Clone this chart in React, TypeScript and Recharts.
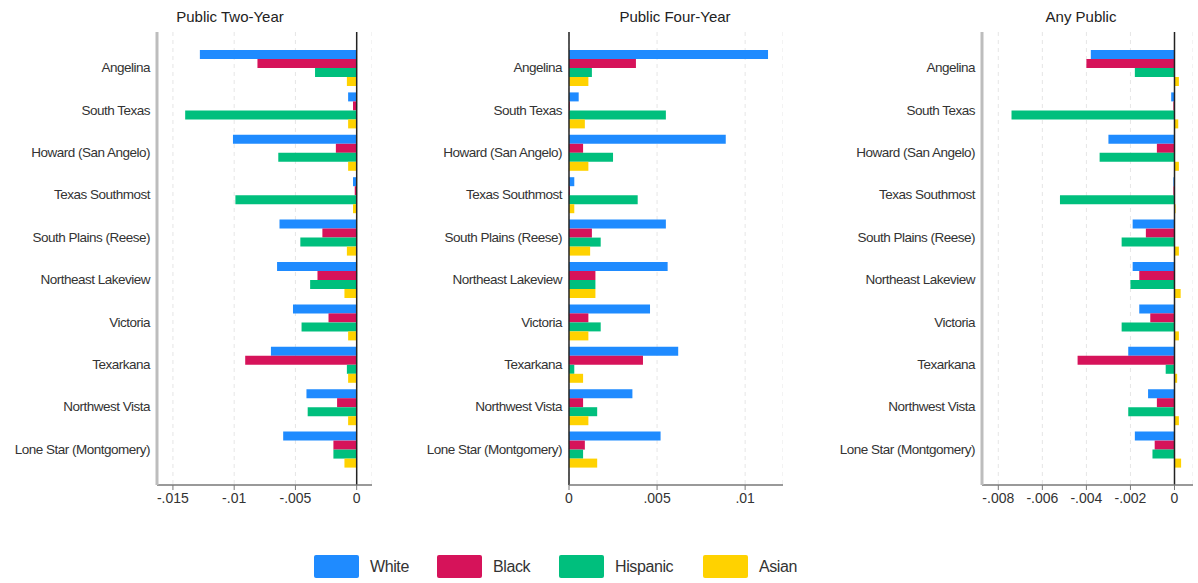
import React from "react";
import {
  BarChart, Bar, XAxis, YAxis, CartesianGrid, ReferenceLine,
} from "recharts";

// colleges, top to bottom
const categories = [
  "Angelina", "South Texas", "Howard (San Angelo)", "Texas Southmost", "South Plains (Reese)",
  "Northeast Lakeview", "Victoria", "Texarkana", "Northwest Vista", "Lone Star (Montgomery)",
];

const seriesNames = ["White", "Black", "Hispanic", "Asian"];
const seriesColors = ["#1f8bff", "#d6135a", "#00bf7d", "#ffd200"];

// Public Two-Year
const twoYearWhite = [-0.0128, -0.0007, -0.0101, -0.0003, -0.0063, -0.0065, -0.0052, -0.0070, -0.0041, -0.0060];
const twoYearBlack = [-0.0081, -0.0003, -0.0017, -0.00016, -0.0028, -0.0032, -0.0023, -0.0091, -0.0016, -0.0019];
const twoYearHispanic = [-0.0034, -0.0140, -0.0064, -0.0099, -0.0046, -0.0038, -0.0045, -0.0008, -0.0040, -0.0019];
const twoYearAsian = [-0.0008, -0.0007, -0.0007, -0.0003, -0.0008, -0.0010, -0.0007, -0.0007, -0.0007, -0.0010];
const twoYearTicks = [-0.015, -0.01, -0.005, 0];

// Public Four-Year
const fourYearWhite = [0.0113, 0.00055, 0.0089, 0.0003, 0.0055, 0.0056, 0.0046, 0.0062, 0.0036, 0.0052];
const fourYearBlack = [0.0038, 0.00005, 0.0008, 0.00005, 0.0013, 0.0015, 0.0011, 0.0042, 0.0008, 0.0009];
const fourYearHispanic = [0.0013, 0.0055, 0.0025, 0.0039, 0.0018, 0.0015, 0.0018, 0.0003, 0.0016, 0.0008];
const fourYearAsian = [0.0011, 0.0009, 0.0011, 0.0003, 0.0012, 0.0015, 0.0011, 0.0008, 0.0011, 0.0016];
const fourYearTicks = [0, 0.005, 0.01];

// Any Public
const anyWhite = [-0.0038, -0.00015, -0.0030, -0.00005, -0.0019, -0.0019, -0.0016, -0.0021, -0.0012, -0.0018];
const anyBlack = [-0.0040, -0.00005, -0.0008, -0.00005, -0.0013, -0.0016, -0.0011, -0.0044, -0.0008, -0.0009];
const anyHispanic = [-0.0018, -0.0074, -0.0034, -0.0052, -0.0024, -0.0020, -0.0024, -0.0004, -0.0021, -0.0010];
const anyAsian = [0.0002, 0.00017, 0.0002, 0.00005, 0.0002, 0.00028, 0.0002, 0.00012, 0.0002, 0.0003];
const anyTicks = [-0.008, -0.006, -0.004, -0.002, 0];

const FONT = "'Liberation Sans', Arial, sans-serif";

const build = (w: number[], b: number[], h: number[], a: number[]) =>
  categories.map((name, i) => ({ name, White: w[i], Black: b[i], Hispanic: h[i], Asian: a[i] }));

const fmt = (v: number) => (v === 0 ? "0" : String(v).replace("0.", "."));

// single-line category label (the default tick wraps long names)
const CollegeTick = ({ x, y, payload }: any) => (
  <text x={x} y={y} dy={4} textAnchor="end" fontSize={13.5} fill="#333"
    fontFamily={FONT} letterSpacing={-0.5}>
    {payload.value}
  </text>
);

interface PanelProps {
  left: number;
  width: number;
  yWidth: number;
  data: any[];
  domain: [number, number];
  ticks: number[];
  grayAxis: boolean;
}

function Panel({ left, width, yWidth, data, domain, ticks, grayAxis }: PanelProps) {
  return (
    <div style={{ position: "absolute", left, top: 0 }}>
      <BarChart
        width={width}
        height={530}
        data={data}
        layout="vertical"
        barSize={9}
        barGap={0}
        margin={{ top: 32, right: 0, bottom: 15, left: 0 }}
      >
        <CartesianGrid horizontal={false} stroke="#e6e6e6" strokeDasharray="4 4" />
        <XAxis
          type="number"
          domain={domain}
          ticks={ticks}
          allowDataOverflow
          tickFormatter={fmt}
          axisLine={{ stroke: "#777", strokeWidth: 1.5 }}
          tickLine={{ stroke: "#777" }}
          tickSize={5}
          tickMargin={3}
          height={30}
          tick={{ fontSize: 14, fill: "#333", fontFamily: FONT }}
        />
        <YAxis
          type="category"
          dataKey="name"
          width={yWidth}
          padding={{ top: 15, bottom: 14 }}
          axisLine={grayAxis ? { stroke: "#bdbdbd", strokeWidth: 3 } : false}
          tickLine={false}
          tickSize={0}
          tickMargin={7}
          interval={0}
          tick={<CollegeTick />}
        />
        <ReferenceLine x={0} stroke="#222" strokeWidth={1.5} />
        {seriesNames.map((s, i) => (
          <Bar key={s} dataKey={s} fill={seriesColors[i]} isAnimationActive={false} />
        ))}
      </BarChart>
    </div>
  );
}

const titleStyle: React.CSSProperties = {
  position: "absolute", top: 8, fontSize: 15, color: "#222", fontFamily: FONT,
  transform: "translateX(-50%)", whiteSpace: "nowrap",
};

export default function App() {
  const legendX = [314, 437, 559, 703];
  return (
    <div style={{ position: "fixed", left: 0, top: 0, width: 1198, height: 583, background: "#fff", overflow: "hidden" }}>
      <div style={{ ...titleStyle, left: 230 }}>Public Two-Year</div>
      <div style={{ ...titleStyle, left: 675 }}>Public Four-Year</div>
      <div style={{ ...titleStyle, left: 1081 }}>Any Public</div>

      <Panel left={0} width={372} yWidth={157}
        data={build(twoYearWhite, twoYearBlack, twoYearHispanic, twoYearAsian)}
        domain={[-0.0163, 0.00125]} ticks={twoYearTicks} grayAxis />
      <Panel left={400} width={383} yWidth={169}
        data={build(fourYearWhite, fourYearBlack, fourYearHispanic, fourYearAsian)}
        domain={[0, 0.01215]} ticks={fourYearTicks} grayAxis={false} />
      <Panel left={810} width={383} yWidth={172}
        data={build(anyWhite, anyBlack, anyHispanic, anyAsian)}
        domain={[-0.00874, 0.00084]} ticks={anyTicks} grayAxis />

      {seriesNames.map((s, i) => (
        <div key={s} style={{ position: "absolute", left: legendX[i], top: 555, display: "flex", alignItems: "center" }}>
          <div style={{ width: 45, height: 23, background: seriesColors[i], borderRadius: 2 }} />
          <span style={{ marginLeft: 11, fontSize: 16, color: "#333", fontFamily: FONT, letterSpacing: -0.4 }}>{s}</span>
        </div>
      ))}
    </div>
  );
}
